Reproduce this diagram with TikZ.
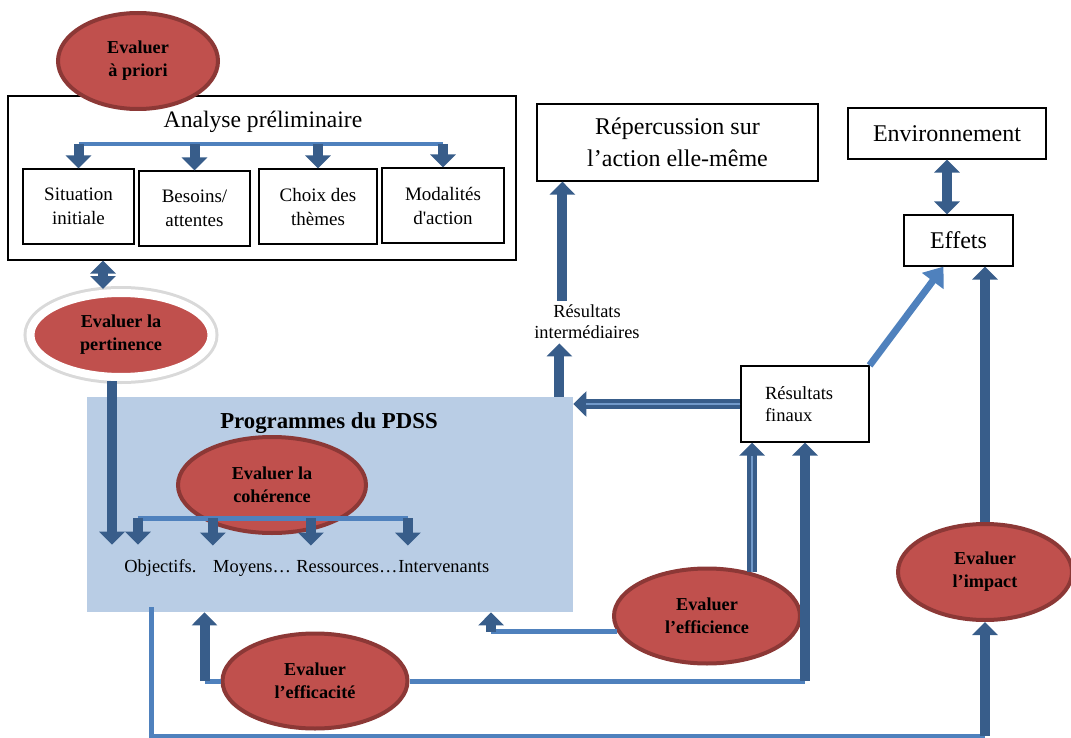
\documentclass[tikz,border=0pt]{standalone}
\usepackage{fontspec}
\setmainfont{Liberation Serif}
\usepackage{tikz}
\usetikzlibrary{shapes.geometric,arrows.meta,positioning}

\definecolor{evalred}{HTML}{C0504D}
\definecolor{evalrim}{HTML}{8C3836}
\definecolor{darkblue}{HTML}{385D8A}
\definecolor{lightblue}{HTML}{4F81BD}
\definecolor{progblue}{HTML}{B9CDE5}

\begin{document}
\begin{tikzpicture}[x=0.5pt, y=-0.5pt,
  evalnode/.style={ellipse, fill=evalred, draw=evalrim, line width=2pt, inner sep=0pt,
    align=center, font=\fontsize{9.1}{11.5}\selectfont\bfseries},
  box/.style={draw=black, line width=0.6pt, align=center, inner sep=0pt},
  smalltext/.style={font=\fontsize{9.5}{12}\selectfont},
  bigtext/.style={font=\fontsize{12}{16}\selectfont},
  fat/.style={draw=darkblue, line width=5pt, -{Triangle[width=12.5pt,length=6.5pt]}},
  fatboth/.style={draw=darkblue, line width=5pt,
    {Triangle[width=12.5pt,length=6.5pt]}-{Triangle[width=12.5pt,length=6.5pt]}},
  stripe/.style={draw=lightblue!80, line width=1pt, shorten >=6.5pt},
  slim/.style={draw=lightblue, line width=2.5pt},
]
\useasboundingbox (0,0) rectangle (1071,738);

% analyse preliminaire
\node[box, minimum width=254pt, minimum height=82pt] (analyse) at (262,178) {};
\node[font=\fontsize{11.8}{14}\selectfont] (analysetitle) at (263,122) {Analyse préliminaire};
\node[box, smalltext, minimum width=55.5pt, minimum height=37.5pt] (situation) at (78.5,206.5) {Situation\\initiale};
\node[box, smalltext, minimum width=55.5pt, minimum height=37.5pt] (besoins) at (194.5,208.5) {Besoins/\\attentes};
\node[box, smalltext, minimum width=59pt, minimum height=37.5pt] (choix) at (318,206.5) {Choix des\\thèmes};
\node[box, smalltext, minimum width=61pt, minimum height=37.5pt] (modalites) at (443,205.5) {Modalités\\d\textquotesingle action};
\node[evalnode, minimum width=80pt, minimum height=48pt] (priori) at (138,61) {Evaluer\\à priori};

\coordinate (abranch) at (0,144);
\draw[slim, line width=2.2pt] (abranch -| situation.north) -- (abranch -| modalites.north);
\foreach \n in {situation,besoins,choix,modalites}
  \draw[fat] (abranch -| \n.north) -- (\n.north);

\node[evalnode, draw=white, line width=4pt, preaction={draw=black!15, line width=7pt},
  minimum width=90.5pt, minimum height=42pt] (pertinence) at (121,335) {Evaluer la\\pertinence};
\coordinate (pertin) at ([xshift=-9pt]pertinence.north);
\draw[fatboth] (pertin |- analyse.south) -- (pertin);

% programmes
\node[fill=progblue, minimum width=243pt, minimum height=107.5pt, inner sep=0pt] (prog) at (330,504.5) {};
\node[font=\fontsize{11.4}{14}\selectfont\bfseries] (progtitle) at (329,423) {Programmes du PDSS};
\node[evalnode, minimum width=94pt, minimum height=48pt] (coherence) at (272,485) {Evaluer la\\cohérence};

\node[anchor=base west, inner sep=0pt, font=\fontsize{9.2}{11}\selectfont] (objectifs) at (124,572) {Objectifs.};
\node[base right=8pt of objectifs, inner sep=0pt, font=\fontsize{9.2}{11}\selectfont] (moyens) {Moyens…};
\node[base right=2.3pt of moyens, inner sep=0pt, font=\fontsize{9.2}{11}\selectfont] (ressources) {Ressources…};
\node[base right=0pt of ressources, inner sep=0pt, font=\fontsize{9.2}{11}\selectfont] (intervenants) {Intervenants};

\coordinate (pbranch) at (0,518);
\path ([xshift=7pt]objectifs.north west) coordinate (t1)
      (moyens.north west) coordinate (t2)
      ([xshift=7.5pt]ressources.north west) coordinate (t3)
      ([xshift=5pt]intervenants.north west) coordinate (t4);
\draw[slim] (t1 |- pbranch) -- (t4 |- pbranch);
\foreach \t in {t1,t2,t3,t4}
  \draw[fat, shorten >=7pt] (\t |- pbranch) -- (\t);

\coordinate (pertout) at ([xshift=-4.5pt]pertinence.south);
\draw[fat, shorten >=7pt] (pertout) -- (pertout |- objectifs.north);

% resultats
\node[font=\fontsize{9.2}{10.5}\selectfont, align=center, inner sep=2pt] (inter) at (587,322) {Résultats\\intermédiaires};
\node[box, bigtext, minimum width=140.5pt, minimum height=38.5pt] (repercussion) at (677.5,142.5) {Répercussion sur\\l’action elle-même};
\node[box, bigtext, minimum width=99pt, minimum height=25.5pt] (environnement) at (947,133.5) {Environnement};
\node[box, bigtext, minimum width=54.5pt, minimum height=25.5pt] (effets) at (958.5,240.5) {Effets};
\node[box, font=\fontsize{9.3}{11}\selectfont, align=left, text width=40pt,
  minimum width=64pt, minimum height=38pt] (finaux) at (805,404) {Résultats\\finaux};

\coordinate (progup) at ([xshift=-7pt]prog.north east);
\draw[fat] (progup) -- (progup |- inter.south);
\coordinate (repin) at ([xshift=13pt]repercussion.south west);
\draw[fat] (repin |- inter.north) -- (repin);
\draw[fatboth] (environnement.south) -- (environnement.south |- effets.north);

\draw[fat] (finaux.west) -- (finaux.west -| prog.east);
\draw[stripe] (finaux.west) -- (finaux.west -| prog.east);
\draw[slim, line width=3.5pt, -{Triangle[width=13pt,length=9pt]}] (finaux.north east) -- ([xshift=-7.5pt]effets.south);

% evaluations du bas
\node[evalnode, minimum width=93pt, minimum height=47.5pt] (efficience) at (707,616) {Evaluer\\l’efficience};
\node[evalnode, minimum width=92.5pt, minimum height=47.5pt] (efficacite) at (315,681) {Evaluer\\l’efficacité};
\node[evalnode, minimum width=87pt, minimum height=48pt] (impact) at (985,572) {Evaluer\\l’impact};

\draw[fat] (efficience.44) -- (efficience.44 |- finaux.south);
\draw[stripe] (efficience.44) -- (efficience.44 |- finaux.south);

\draw[slim] (efficacite.east) -- (efficacite.east -| finaux.south);
\draw[fat] (efficacite.east -| finaux.south) -- (finaux.south);

\coordinate (efficacitebend) at ([xshift=-8pt]efficacite.west);
\draw[slim] (efficacite.west) -- (efficacitebend);
\draw[fat] (efficacitebend) -- (efficacitebend |- prog.south);

\coordinate (efficiencebend) at ([xshift=-63pt]efficience.190);
\draw[slim] (efficience.190) -- (efficiencebend);
\draw[fat] (efficiencebend) -- (efficiencebend |- prog.south);

\draw[fat] (impact.north) -- (impact.north |- effets.south);

\coordinate (loopstart) at ([xshift=32.5pt,yshift=2.5pt]prog.south west);
\coordinate (loopcorner) at ([yshift=-64.5pt]loopstart);
\draw[slim] (loopstart) -- (loopcorner) -- (loopcorner -| impact.south);
\draw[fat] (loopcorner -| impact.south) -- (impact.south);
%\draw[slim] (prog.south) -- (efficacite.north);
\end{tikzpicture}
\end{document}
